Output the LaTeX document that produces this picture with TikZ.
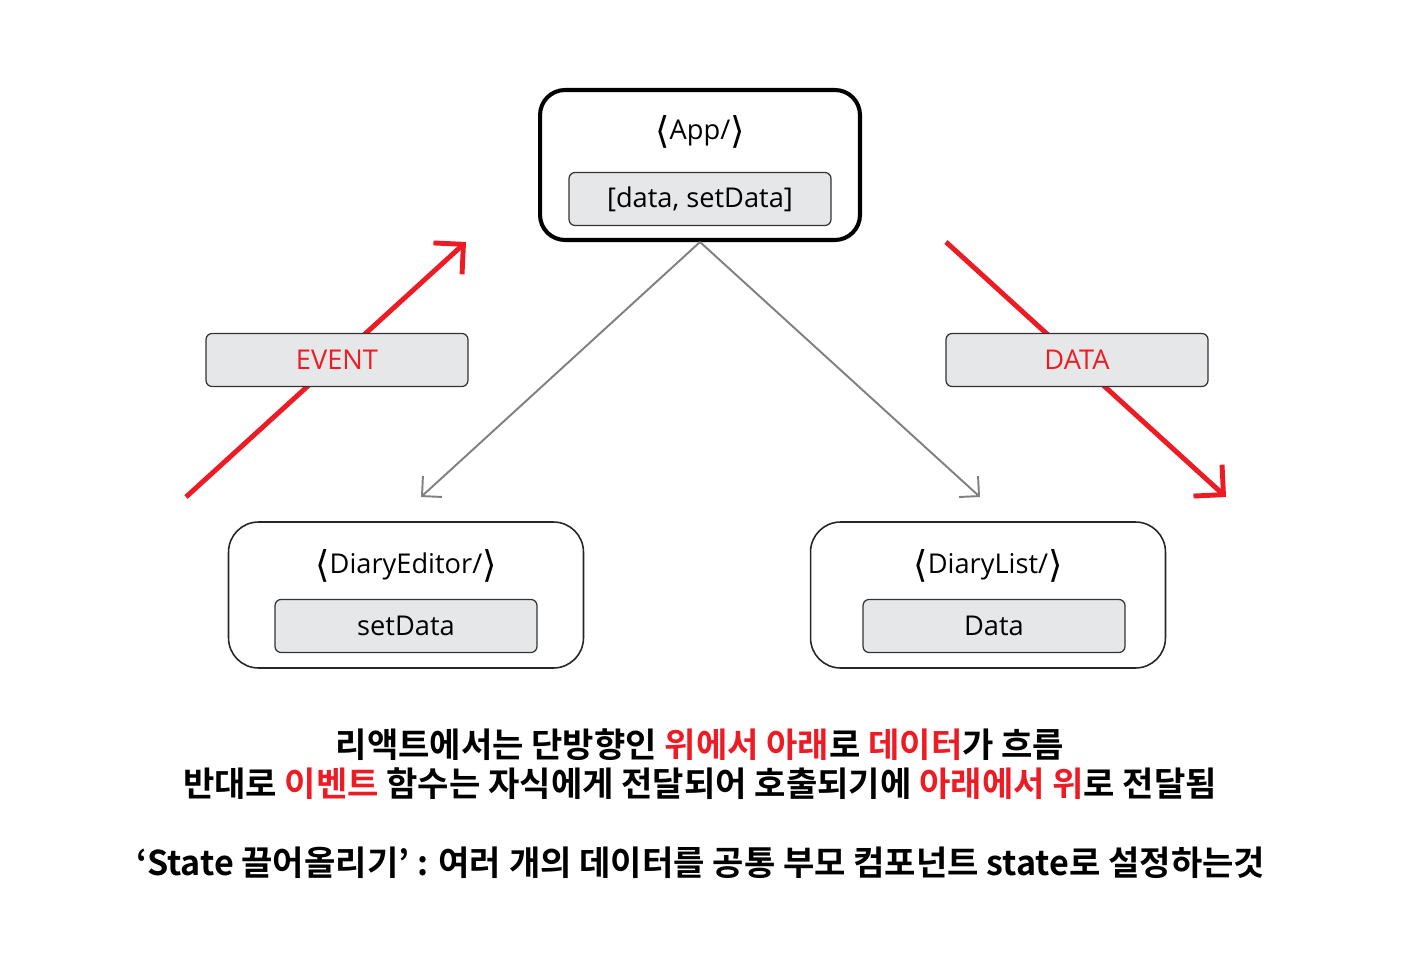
\documentclass[tikz,border=0pt]{standalone}
\usepackage{fontspec}
\setmainfont{Open Sans}
\newfontfamily\kr{Noto Sans CJK KR}[BoldFont=* Bold]
\newfontfamily\brk{DejaVu Sans}
\newcommand\lbr{{\brk\fontsize{21}{21}\selectfont\raisebox{-0.1em}{⟨}}}
\newcommand\rbr{{\brk\fontsize{21}{21}\selectfont\raisebox{-0.1em}{⟩}}}
\usetikzlibrary{arrows.meta}
\definecolor{evred}{HTML}{ED1C24}
\definecolor{boxgray}{HTML}{E6E7E8}
\begin{document}
\begin{tikzpicture}[x=0.02cm,y=-0.02cm,
	outer/.style={draw=black!85,line width=0.9pt,rounded corners=0.6cm,minimum width=7.1cm,minimum height=2.92cm},
	inner/.style={draw=black!80,fill=boxgray,line width=0.7pt,rounded corners=0.12cm,minimum width=5.24cm,minimum height=1.06cm,font=\fontsize{15.5}{18}\selectfont},
	title/.style={font=\fontsize{15.5}{18}\selectfont},
	flow/.style={draw=evred,line width=2.8pt,-{Straight Barb[angle=90:0.6cm]}},
	down/.style={draw=black!50,line width=1.1pt,-{Straight Barb[angle=90:0.4cm]}},
	note/.style={font=\kr\bfseries\fontsize{19.4}{22.1}\selectfont,align=center}]
		\useasboundingbox (0,0) rectangle (1402,962);

		\coordinate (e0) at (186,497);
		\coordinate (e1) at (466,242);
		\coordinate (d0) at (946,242);
		\coordinate (d1) at (1226,497);
		\draw[flow] (e0)--(e1);
		\draw[flow] (d0)--(d1);

		\node (app)[draw,line width=2.3pt,rounded corners=0.5cm,minimum width=6.4cm,minimum height=3cm] at (700,165) {};
		\node (app0)[title] at (700,132) {\lbr App/\rbr};
		\node (app1)[inner] at (700,199) {[data, setData]};

		\node (ed)[outer] at (406,595) {};
		\node (ed0)[title] at (406,566) {\lbr DiaryEditor/\rbr};
		\node (ed1)[inner] at (406,626) {setData};

		\node (li)[outer] at (988,595) {};
		\node (li0)[title] at (988,566) {\lbr DiaryList/\rbr};
		\node (li1)[inner] at (994,626) {Data};

		\node (ev)[inner,text=evred] at (337,360) {EVENT};
		\node (da)[inner,text=evred] at (1077,360) {DATA};

		\coordinate (ed2) at (421,497);
		\coordinate (li2) at (980,497);
		\draw[down] (app.south)--(ed2);
		\draw[down] (app.south)--(li2);

		\node (t1)[note] at (700,764) {리액트에서는 단방향인 \textcolor{evred}{위에서 아래}로 \textcolor{evred}{데이터}가 흐름\\
			반대로 \textcolor{evred}{이벤트} 함수는 자식에게 전달되어 호출되기에 \textcolor{evred}{아래에서 위}로 전달됨};
		\node (t2)[note] at (701,863) {‘State 끌어올리기’ : 여러 개의 데이터를 공통 부모 컴포넌트 state로 설정하는것};
	\end{tikzpicture}
\end{document}
